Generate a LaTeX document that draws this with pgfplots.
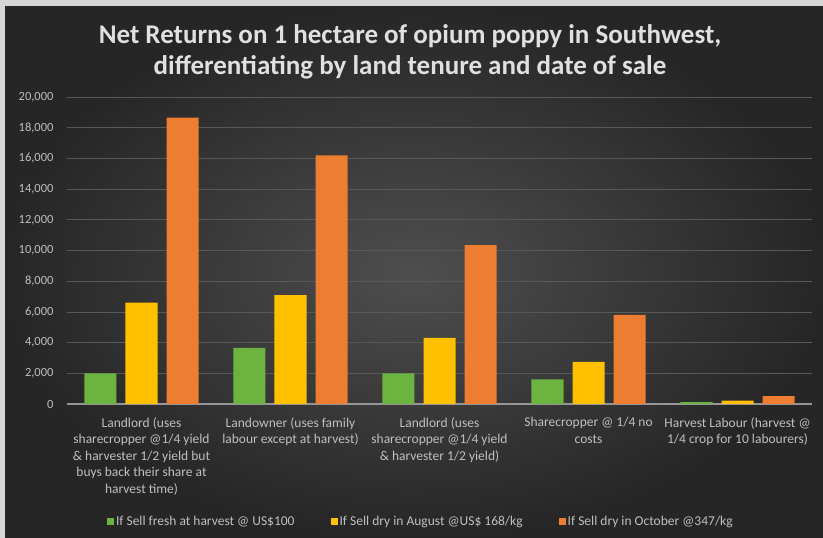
\documentclass[border=0pt]{standalone}
\usepackage{pgfplots}
\pgfplotsset{compat=1.18}
\usepackage{fontspec}
\setmainfont{Carlito}
\definecolor{cgreen}{RGB}{108,180,64}
\definecolor{cyellow}{RGB}{255,192,0}
\definecolor{corange}{RGB}{237,125,49}
\definecolor{ctext}{RGB}{191,191,191}
\definecolor{cgrid}{RGB}{88,88,88}
\definecolor{cbase}{RGB}{150,150,150}
\definecolor{bginner}{RGB}{78,78,78}
\definecolor{bgouter}{RGB}{38,38,38}
\definecolor{cframe}{RGB}{215,215,215}
\begin{document}
\begin{tikzpicture}
\fill[cframe] (0pt,0pt) rectangle (823pt,538pt);
\fill[bgouter] (5pt,0pt) rectangle (823pt,531pt);
\shade[inner color=bginner, outer color=bgouter] (5pt,0pt) rectangle (823pt,531pt);
\node[align=center, font=\fontsize{27}{31}\selectfont\bfseries, text=white!88!black] at (410pt,486pt)
  {Net Returns on 1 hectare of opium poppy in Southwest,\\differentiating by land tenure and date of sale};
\begin{axis}[
  at={(67pt,134pt)}, anchor=south west,
  scale only axis, width=745pt, height=307pt,
  xmin=-0.5, xmax=4.5, ymin=0, ymax=20000,
  ybar=9pt, bar width=32pt,
  axis line style={draw=none},
  major tick length=0pt,
  xtick={0,1,2,3,4},
  xticklabels={
    {Landlord (uses\\sharecropper @1/4 yield\\\& harvester 1/2 yield but\\buys back their share at\\harvest time)},
    {Landowner (uses family\\labour except at harvest)},
    {Landlord (uses\\sharecropper @1/4 yield\\\& harvester 1/2 yield)},
    {Sharecropper @ 1/4 no\\costs},
    {Harvest Labour (harvest @\\1/4 crop for 10 labourers)}},
  xticklabel style={align=center, text=ctext, font=\fontsize{13.5}{16.5}\selectfont, yshift=-10pt},
  ytick={2000,4000,...,20000},
  extra y ticks={0},
  extra y tick style={grid style={draw=cbase, line width=1.2pt}},
  ymajorgrids,
  grid style={draw=cgrid, line width=0.6pt},
  scaled y ticks=false,
  yticklabel style={text=ctext, font=\fontsize{12.5}{14}\selectfont, xshift=-10pt},
  /pgf/number format/.cd, 1000 sep={,}, assume math mode=true,
  /pgfplots/.cd,
  legend columns=3,
  legend style={at={(0.475,-0.384)}, anchor=center, draw=none, fill=none,
    text=ctext, font=\fontsize{13.5}{14}\selectfont,
    /tikz/every even column/.append style={column sep=34pt}},
  legend image code/.code={\fill[#1] (0pt,-3.5pt) rectangle (7pt,3.5pt);},
]
\addplot[fill=cgreen, draw=none] coordinates {(0,2000) (1,3650) (2,2000) (3,1600) (4,120)};
\addplot[fill=cyellow, draw=none] coordinates {(0,6600) (1,7100) (2,4300) (3,2750) (4,220)};
\addplot[fill=corange, draw=none] coordinates {(0,18650) (1,16200) (2,10350) (3,5800) (4,520)};
\legend{If Sell fresh at harvest @ US\$100, If Sell dry in August @US\$ 168/kg, If Sell dry in October @347/kg}
\end{axis}
\pgfresetboundingbox
\useasboundingbox (0pt,0pt) rectangle (823pt,538pt);
\end{tikzpicture}
\end{document}
